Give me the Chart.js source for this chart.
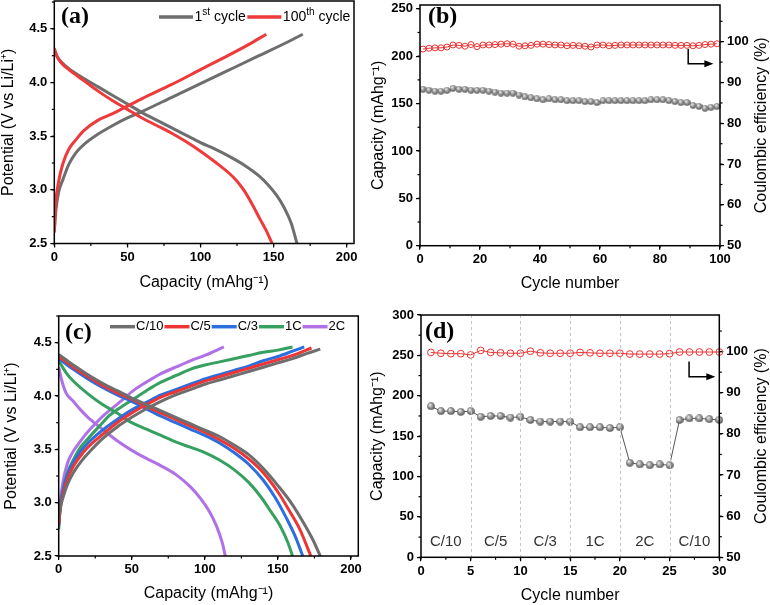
<!DOCTYPE html>
<html>
<head>
<meta charset="utf-8">
<script src="https://cdn.jsdelivr.net/npm/chart.js@4.4.1/dist/chart.umd.min.js"></script>
<style>
  html, body { margin: 0; padding: 0; background: #fff; }
  #wrap { position: relative; width: 770px; height: 605px; overflow: hidden; }
  canvas { position: absolute; }
</style>
</head>
<body>
<div id="wrap">
  <canvas id="chartA" width="362" height="302" style="left:0;top:0"></canvas>
  <canvas id="chartB" width="404" height="302" style="left:366px;top:0"></canvas>
  <canvas id="chartC" width="366" height="303" style="left:0;top:302px"></canvas>
  <canvas id="chartD" width="404" height="303" style="left:366px;top:302px"></canvas>
</div>
<script>
// ---- (a) charge/discharge, 1st vs 100th cycle
const aCap1Chg = [0, 1, 3, 6, 10, 15, 20, 30, 40, 50, 60, 80, 100, 120, 140, 160, 170]
const aV1Chg = [2.62, 2.8, 2.98, 3.1, 3.24, 3.35, 3.42, 3.52, 3.6, 3.67, 3.73, 3.86, 3.99, 4.12, 4.25, 4.38, 4.45]
const aCap1Dis = [0, 2, 5, 10, 20, 30, 40, 50, 60, 70, 80, 90, 100, 110, 120, 130, 140, 146, 152, 157, 162, 166]
const aV1Dis = [4.3, 4.24, 4.19, 4.13, 4.04, 3.96, 3.88, 3.8, 3.72, 3.65, 3.58, 3.51, 3.44, 3.38, 3.31, 3.23, 3.13, 3.05, 2.95, 2.84, 2.69, 2.5]
const aCap100Chg = [0, 1, 3, 6, 10, 15, 20, 30, 40, 50, 60, 80, 100, 120, 135, 145]
const aV100Chg = [2.6, 2.88, 3.08, 3.25, 3.38, 3.47, 3.55, 3.65, 3.71, 3.78, 3.85, 3.98, 4.12, 4.26, 4.37, 4.45]
const aCap100Dis = [0, 2, 5, 10, 20, 30, 40, 50, 60, 70, 80, 90, 100, 110, 120, 125, 130, 136, 141, 145, 149]
const aV100Dis = [4.32, 4.24, 4.18, 4.12, 4.02, 3.92, 3.83, 3.75, 3.67, 3.6, 3.53, 3.45, 3.36, 3.26, 3.15, 3.08, 2.99, 2.85, 2.72, 2.62, 2.5]
const aTicksX = [0, 50, 100, 150, 200]
const aTicksY = [2.5, 3.0, 3.5, 4.0, 4.5]

// ---- (b) cycling at C/10 (every 2nd cycle plotted)
const bCycles = [1, 3, 5, 7, 9, 11, 13, 15, 17, 19, 21, 23, 25, 27, 29, 31, 33, 35, 37, 39, 41, 43, 45, 47, 49,
  51, 53, 55, 57, 59, 61, 63, 65, 67, 69, 71, 73, 75, 77, 79, 81, 83, 85, 87, 89, 91, 93, 95, 97, 99]
const bCapacity = [165, 164, 163, 163, 164, 166, 165, 165, 164, 164, 164, 163, 162, 161, 161, 161, 159, 157, 156, 155,
  154, 155, 154, 154, 153, 153, 153, 152, 152, 151, 153, 153, 153, 153, 153, 153, 153, 153, 154, 154,
  154, 153, 152, 151, 151, 148, 147, 145, 146, 147]
const bEfficiency = [98.2, 98.4, 98.5, 98.5, 98.7, 99.2, 99.1, 98.9, 99.3, 98.8, 99.2, 99.2, 99.3, 99.4, 99.5, 99.4, 98.9, 99.0, 99.1, 99.4,
  99.4, 99.3, 99.2, 99.2, 99.0, 99.1, 99.0, 98.9, 98.7, 99.2, 99.2, 99.0, 99.1, 99.2, 99.2, 99.2, 99.2, 99.2, 99.2, 99.2,
  99.2, 99.2, 99.1, 99.1, 99.1, 99.0, 99.1, 99.3, 99.4, 99.5]
const bTicksX = [0, 20, 40, 60, 80, 100]
const bTicksY = [0, 50, 100, 150, 200, 250]
const bTicksY2 = [50, 60, 70, 80, 90, 100]

// ---- (c) rate curves
const cRates = ['C/10', 'C/5', 'C/3', '1C', '2C']
const cColors = ['#6e6e6e', '#ee3535', '#2a6ee0', '#35a060', '#b070e6']
const cChgCap = [
  [0, 1, 3, 6, 10, 15, 20, 30, 40, 50, 60, 70, 80, 90, 100, 110, 120, 130, 140, 150, 160, 170, 179],
  [0, 1, 3, 6, 10, 15, 20, 30, 40, 50, 60, 70, 80, 90, 100, 110, 120, 130, 140, 150, 160, 173],
  [0, 1, 3, 6, 10, 15, 20, 30, 40, 50, 60, 70, 80, 90, 100, 110, 120, 130, 140, 150, 160, 168],
  [0, 1, 3, 6, 10, 15, 20, 28, 35, 43, 51, 60, 70, 80, 90, 100, 110, 120, 130, 140, 150, 160],
  [0, 1, 3, 6, 9, 14, 19, 25, 31, 38, 45, 51, 60, 70, 80, 90, 100, 113]
]
const cChgV = [
  [2.85, 2.95, 3.05, 3.17, 3.28, 3.38, 3.46, 3.6, 3.71, 3.8, 3.88, 3.95, 4.01, 4.06, 4.11, 4.15, 4.19, 4.23, 4.27, 4.31, 4.35, 4.4, 4.44],
  [2.8, 2.93, 3.08, 3.22, 3.34, 3.44, 3.52, 3.64, 3.75, 3.84, 3.92, 3.99, 4.04, 4.09, 4.14, 4.18, 4.22, 4.26, 4.3, 4.34, 4.38, 4.45],
  [2.78, 2.95, 3.12, 3.26, 3.38, 3.48, 3.56, 3.68, 3.78, 3.87, 3.94, 4.01, 4.06, 4.11, 4.16, 4.2, 4.24, 4.28, 4.33, 4.37, 4.42, 4.46],
  [2.75, 2.95, 3.12, 3.28, 3.4, 3.52, 3.6, 3.72, 3.82, 3.9, 3.97, 4.05, 4.13, 4.19, 4.25, 4.29, 4.32, 4.35, 4.38, 4.41, 4.43, 4.46],
  [2.8, 3.0, 3.2, 3.37, 3.46, 3.56, 3.65, 3.74, 3.82, 3.9, 3.98, 4.05, 4.13, 4.21, 4.27, 4.33, 4.38, 4.46]
]
const cDisCap = [
  [0, 10, 20, 30, 40, 50, 60, 70, 80, 90, 100, 110, 120, 130, 140, 150, 160, 168, 174, 179],
  [0, 10, 20, 30, 40, 50, 60, 70, 80, 90, 100, 110, 120, 130, 140, 150, 158, 165, 172.5],
  [0, 10, 20, 30, 40, 50, 60, 70, 80, 90, 100, 110, 120, 130, 140, 148, 156, 162, 167],
  [0, 5, 10, 20, 30, 40, 50, 60, 70, 80, 90, 100, 110, 120, 130, 138, 145, 152, 157, 160],
  [0, 2, 5, 10, 15, 20, 28, 40, 50, 60, 70, 80, 90, 97, 103, 108, 112, 114]
]
const cDisV = [
  [4.39, 4.29, 4.2, 4.12, 4.05, 3.98, 3.92, 3.86, 3.8, 3.74, 3.68, 3.62, 3.54, 3.45, 3.32, 3.16, 2.98, 2.8, 2.65, 2.5],
  [4.37, 4.27, 4.18, 4.1, 4.03, 3.97, 3.9, 3.84, 3.78, 3.72, 3.66, 3.59, 3.51, 3.41, 3.28, 3.1, 2.92, 2.75, 2.5],
  [4.35, 4.25, 4.16, 4.08, 4.01, 3.95, 3.88, 3.81, 3.75, 3.69, 3.63, 3.56, 3.47, 3.36, 3.21, 3.05, 2.85, 2.68, 2.5],
  [4.33, 4.22, 4.14, 4.02, 3.92, 3.84, 3.75, 3.69, 3.63, 3.57, 3.52, 3.47, 3.4, 3.31, 3.19, 3.06, 2.92, 2.77, 2.62, 2.5],
  [4.27, 4.15, 4.03, 3.95, 3.87, 3.8, 3.71, 3.58, 3.49, 3.415, 3.345, 3.265, 3.15, 3.04, 2.92, 2.78, 2.62, 2.5]
]

// ---- (d) rate capability
const dCycles = [1, 2, 3, 4, 5, 6, 7, 8, 9, 10, 11, 12, 13, 14, 15, 16, 17, 18, 19, 20, 21, 22, 23, 24, 25, 26, 27, 28, 29, 30]
const dCapacity = [187, 181, 181, 180, 181, 174, 175, 175, 173, 174, 170, 168, 168, 168, 168,
  161, 161, 161, 160, 161, 117, 115, 114, 115, 114, 170, 172, 172, 171, 170]
const dEfficiency = [99.8, 99.6, 99.5, 99.5, 99.2, 100.3, 99.8, 99.7, 99.6, 99.6, 100.1, 99.7, 99.6, 99.6, 99.6,
  99.8, 99.7, 99.6, 99.6, 99.6, 99.4, 99.4, 99.4, 99.4, 99.5, 99.9, 99.9, 99.9, 99.9, 99.9]
const dStepBounds = [0, 5, 10, 15, 20, 25, 30]
const dStepLabels = ['C/10', 'C/5', 'C/3', '1C', '2C', 'C/10']
const dTicksX = [0, 5, 10, 15, 20, 25, 30]
const dTicksY = [0, 50, 100, 150, 200, 250, 300]
const dTicksY2 = [50, 60, 70, 80, 90, 100]

const SANS = '"Liberation Sans", Arial, sans-serif'
const tickFont = { family: SANS, size: 13, weight: 'bold' }
const titleFont = { family: SANS, size: 16 }

function pts(xs, ys) {
  return xs.map((x, i) => ({ x, y: ys[i] }))
}

function sphere(d) {
  const c = document.createElement('canvas')
  c.width = c.height = d
  const g = c.getContext('2d')
  const r = d / 2
  const grad = g.createRadialGradient(r * 0.7, r * 0.6, r * 0.1, r, r, r)
  grad.addColorStop(0, '#ececec')
  grad.addColorStop(0.45, '#a0a0a0')
  grad.addColorStop(1, '#4a4a4a')
  g.fillStyle = grad
  g.beginPath()
  g.arc(r, r, r - 0.2, 0, Math.PI * 2)
  g.fill()
  return c
}

function zeroPad(s) {
  s.paddingTop = s.paddingBottom = s.paddingLeft = s.paddingRight = 0
}

function yScale(pos, min, max, ticks, digits, width, title, pad) {
  return {
    type: 'linear', position: pos, min, max,
    afterBuildTicks: s => { s.ticks = ticks.map(v => ({ value: v })) },
    afterFit: s => { s.width = width; zeroPad(s) },
    ticks: { font: tickFont, color: '#000', padding: 3, callback: v => v.toFixed(digits) },
    grid: { drawOnChartArea: false, color: '#000', tickLength: 4, lineWidth: 1.2 },
    border: { display: false },
    title: title
      ? { display: true, text: title, font: { ...titleFont, lineHeight: 1.2 }, color: '#000', padding: { top: pad, bottom: 0 } }
      : { display: false },
  }
}

function xScale(min, max, ticks, height, title, pad) {
  return {
    type: 'linear', position: 'bottom', min, max,
    afterBuildTicks: s => { s.ticks = ticks.map(v => ({ value: v })) },
    afterFit: s => { s.height = height; zeroPad(s) },
    ticks: { font: tickFont, color: '#000', padding: 2, maxRotation: 0, callback: v => String(v) },
    grid: { drawOnChartArea: false, color: '#000', tickLength: 4, lineWidth: 1.2 },
    border: { display: false },
    title: { display: true, text: title, font: titleFont, color: '#000', padding: { top: 0, bottom: pad } },
  }
}

// frame, minor ticks, panel letter, legend, arrows, rate sections
const panelDecor = {
  id: 'panelDecor',
  afterDatasetsDraw(chart, args, o) {
    const { ctx, chartArea: ca, scales } = chart
    ctx.save()
    if (o.bounds) {
      ctx.strokeStyle = '#c4c4c4'
      ctx.lineWidth = 1
      ctx.setLineDash([3, 3])
      o.bounds.slice(1, -1).forEach(v => {
        const px = Math.round(scales.x.getPixelForValue(v)) + 0.5
        ctx.beginPath(); ctx.moveTo(px, ca.top); ctx.lineTo(px, ca.bottom); ctx.stroke()
      })
      ctx.setLineDash([])
      ctx.fillStyle = '#333'
      ctx.font = '15px ' + SANS
      ctx.textAlign = 'center'
      ctx.textBaseline = 'middle'
      const py = scales.y.getPixelForValue(o.stepY)
      o.stepLabels.forEach((t, i) => {
        const mid = (o.bounds[i] + o.bounds[i + 1]) / 2
        ctx.fillText(t, scales.x.getPixelForValue(mid), py)
      })
    }
    // frame
    ctx.strokeStyle = '#000'
    ctx.lineWidth = 1.5
    ctx.strokeRect(ca.left, ca.top, ca.right - ca.left, ca.bottom - ca.top)
    // minor ticks
    ctx.lineWidth = 1.2
    ;(o.minor || []).forEach(m => {
      const s = scales[m.axis]
      for (let v = s.min; v <= s.max + 1e-9; v += m.step) {
        const k = Math.round(v / m.step)
        const val = k * m.step
        if (val < s.min - 1e-9 || val > s.max + 1e-9) continue
        const p = s.getPixelForValue(val)
        ctx.beginPath()
        if (m.axis === 'x') { ctx.moveTo(p, ca.bottom); ctx.lineTo(p, ca.bottom + 2.5) }
        else if (s.position === 'left') { ctx.moveTo(ca.left - 2.5, p); ctx.lineTo(ca.left, p) }
        else { ctx.moveTo(ca.right, p); ctx.lineTo(ca.right + 2.5, p) }
        ctx.stroke()
      }
    })
    // arrow pointing to the right axis
    if (o.arrow) {
      const a = o.arrow
      const x0 = scales.x.getPixelForValue(a.x0)
      const x1 = scales.x.getPixelForValue(a.x1)
      const yA = scales.y2.getPixelForValue(a.yFrom)
      const yB = scales.y2.getPixelForValue(a.yTo)
      ctx.strokeStyle = '#000'
      ctx.lineWidth = 1.5
      ctx.beginPath(); ctx.moveTo(x0, yA); ctx.lineTo(x0, yB); ctx.lineTo(x1 - 7, yB); ctx.stroke()
      ctx.fillStyle = '#000'
      ctx.beginPath(); ctx.moveTo(x1, yB); ctx.lineTo(x1 - 9, yB - 3.5); ctx.lineTo(x1 - 9, yB + 3.5); ctx.closePath(); ctx.fill()
    }
    // legend drawn inside the plot
    if (o.legend) {
      const L = o.legend
      let x = L.x
      ctx.textBaseline = 'middle'
      ctx.textAlign = 'left'
      L.items.forEach(it => {
        ctx.strokeStyle = it.color
        ctx.lineWidth = 3.5
        ctx.beginPath(); ctx.moveTo(x, L.y); ctx.lineTo(x + L.line, L.y); ctx.stroke()
        x += L.line + L.gap
        ctx.fillStyle = '#000'
        it.parts.forEach(([t, sup]) => {
          ctx.font = (sup ? Math.round(L.size * 0.68) : L.size) + 'px ' + SANS
          ctx.fillText(t, x, sup ? L.y - L.size * 0.33 : L.y)
          x += ctx.measureText(t).width
        })
        x += L.gap
      })
    }
    // right axis title, reading bottom to top
    if (o.rightTitle) {
      ctx.save()
      ctx.translate(o.rightTitleX, (ca.top + ca.bottom) / 2)
      ctx.rotate(-Math.PI / 2)
      ctx.fillStyle = '#000'
      ctx.font = '16px ' + SANS
      ctx.textAlign = 'center'
      ctx.textBaseline = 'middle'
      ctx.fillText(o.rightTitle, 0, 0)
      ctx.restore()
    }
    // panel letter
    ctx.fillStyle = '#000'
    ctx.font = 'bold 24px "Liberation Serif", "Times New Roman", serif'
    ctx.textAlign = 'left'
    ctx.textBaseline = 'middle'
    ctx.fillText(o.letter, o.letterX, o.letterY)
    ctx.restore()
  },
}

Chart.register(panelDecor)

const common = {
  responsive: false,
  animation: false,
  events: [],
}

function curve(label, xs, ys, color) {
  return {
    label, data: pts(xs, ys), showLine: true, borderColor: color, borderWidth: 3,
    pointRadius: 0, cubicInterpolationMode: 'monotone', fill: false,
  }
}

// (a)
new Chart(document.getElementById('chartA'), {
  type: 'scatter',
  data: {
    datasets: [
      curve('100th cycle', aCap100Chg, aV100Chg, '#ee3a3a'),
      curve('100th cycle', aCap100Dis, aV100Dis, '#ee3a3a'),
      curve('1st cycle', aCap1Chg, aV1Chg, '#6e6e6e'),
      curve('1st cycle', aCap1Dis, aV1Dis, '#6e6e6e'),
    ],
  },
  options: {
    ...common,
    layout: { padding: { top: 1, right: 8, left: 0, bottom: 0 } },
    scales: {
      x: xScale(0, 205, aTicksX, 58.5, 'Capacity (mAhg⁻¹)', 10),
      y: yScale('left', 2.5, 4.76, aTicksY, 1, 54.3, 'Potential (V vs Li/Li⁺)', -1.5),
    },
    plugins: {
      legend: { display: false },
      tooltip: { enabled: false },
      panelDecor: {
        letter: '(a)', letterX: 61, letterY: 17,
        minor: [{ axis: 'x', step: 25 }, { axis: 'y', step: 0.25 }],
        legend: {
          x: 159, y: 17, line: 34, gap: 1.5, size: 14,
          items: [
            { color: '#6e6e6e', parts: [['1', false], ['st', true], [' cycle', false]] },
            { color: '#ee3a3a', parts: [['100', false], ['th', true], [' cycle', false]] },
          ],
        },
      },
    },
  },
})

// (b)
const sphB = sphere(7)
new Chart(document.getElementById('chartB'), {
  type: 'scatter',
  data: {
    datasets: [
      {
        label: 'Coulombic efficiency', data: pts(bCycles, bEfficiency), yAxisID: 'y2', showLine: true,
        borderColor: '#ee3333', borderWidth: 1, pointRadius: 3, pointBorderWidth: 1,
        pointBackgroundColor: 'rgba(255,255,255,0)', clip: 6,
      },
      {
        label: 'Capacity', data: pts(bCycles, bCapacity), yAxisID: 'y', showLine: true,
        borderColor: '#555', borderWidth: 1, pointStyle: sphB, pointRadius: 3.5, clip: 6,
      },
    ],
  },
  options: {
    ...common,
    layout: { padding: { top: 3.3, right: 0, left: 0, bottom: 0 } },
    scales: {
      x: xScale(0, 100, bTicksX, 56.3, 'Cycle number', 8.5),
      y: yScale('left', 0, 254, bTicksY, 0, 54, 'Capacity (mAhg⁻¹)', 3),
      y2: yScale('right', 50, 109, bTicksY2, 0, 50, null, 0),
    },
    plugins: {
      legend: { display: false },
      tooltip: { enabled: false },
      panelDecor: {
        letter: '(b)', letterX: 62, letterY: 17,
        minor: [{ axis: 'x', step: 10 }, { axis: 'y', step: 25 }, { axis: 'y2', step: 5 }],
        arrow: { x0: 89.4, yFrom: 98.2, yTo: 94.6, x1: 97.8 },
        rightTitle: 'Coulombic efficiency (%)', rightTitleX: 396,
      },
    },
  },
})

// (c)
const cSets = []
cRates.forEach((r, i) => {
  cSets.push(curve(r, cChgCap[i], cChgV[i], cColors[i]))
  cSets.push(curve(r, cDisCap[i], cDisV[i], cColors[i]))
})
new Chart(document.getElementById('chartC'), {
  type: 'scatter',
  data: { datasets: cSets },
  options: {
    ...common,
    layout: { padding: { top: 14, right: 7.7, left: 0, bottom: 0 } },
    scales: {
      x: xScale(0, 205, aTicksX, 49, 'Capacity (mAhg⁻¹)', 1.8),
      y: yScale('left', 2.5, 4.75, aTicksY, 1, 58.7, 'Potential (V vs Li/Li⁺)', 2.3),
    },
    plugins: {
      legend: { display: false },
      tooltip: { enabled: false },
      panelDecor: {
        letter: '(c)', letterX: 65, letterY: 31,
        minor: [{ axis: 'x', step: 25 }, { axis: 'y', step: 0.25 }],
        legend: {
          x: 110, y: 24.7, line: 25, gap: 1, size: 13,
          items: cRates.map((r, i) => ({ color: cColors[i], parts: [[r, false]] })),
        },
      },
    },
  },
})

// (d)
const sphD = sphere(8)
new Chart(document.getElementById('chartD'), {
  type: 'scatter',
  data: {
    datasets: [
      {
        label: 'Coulombic efficiency', data: pts(dCycles, dEfficiency), yAxisID: 'y2', showLine: true,
        borderColor: '#ee3333', borderWidth: 1, pointRadius: 3.4, pointBorderWidth: 1,
        pointBackgroundColor: 'rgba(255,255,255,0)', clip: 8,
      },
      {
        label: 'Capacity', data: pts(dCycles, dCapacity), yAxisID: 'y', showLine: true,
        borderColor: '#555', borderWidth: 1, pointStyle: sphD, pointRadius: 4, clip: 8,
      },
    ],
  },
  options: {
    ...common,
    layout: { padding: { top: 13, right: 0, left: 0, bottom: 0 } },
    scales: {
      x: xScale(0, 30, dTicksX, 47.7, 'Cycle number', 0),
      y: yScale('left', 0, 300, dTicksY, 0, 55, 'Capacity (mAhg⁻¹)', 2),
      y2: yScale('right', 50, 108.9, dTicksY2, 0, 50.7, null, 0),
    },
    plugins: {
      legend: { display: false },
      tooltip: { enabled: false },
      panelDecor: {
        letter: '(d)', letterX: 59, letterY: 30,
        minor: [{ axis: 'x', step: 2.5 }, { axis: 'y', step: 25 }, { axis: 'y2', step: 5 }],
        arrow: { x0: 26.96, yFrom: 97.6, yTo: 93.9, x1: 29.6 },
        bounds: dStepBounds, stepLabels: dStepLabels, stepY: 19,
        rightTitle: 'Coulombic efficiency (%)', rightTitleX: 396,
      },
    },
  },
})
</script>
</body>
</html>
